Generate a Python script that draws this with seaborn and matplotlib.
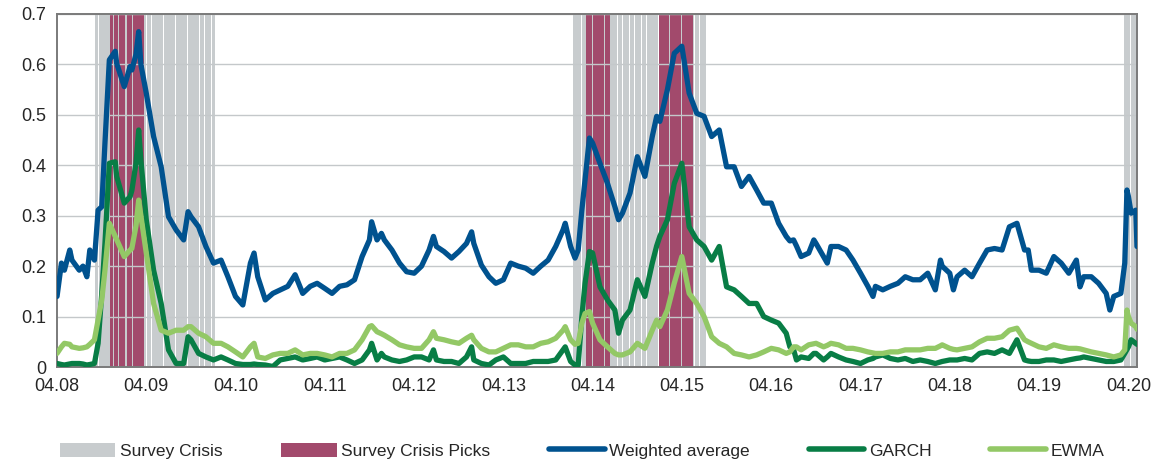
import matplotlib

matplotlib.use("Agg")
import matplotlib.dates as mdates
import matplotlib.pyplot as plt
import pandas as pd
import seaborn as sns
from matplotlib.lines import Line2D
from matplotlib.patches import Patch

# ---------------------------
# DATA
# ---------------------------

dates = [
    # 2008
    "2008-04-01", "2008-04-19", "2008-05-01", "2008-05-23", "2008-06-01", "2008-07-01",
    "2008-07-16", "2008-08-01", "2008-08-13", "2008-09-01", "2008-09-16", "2008-10-01",
    "2008-10-14", "2008-11-01", "2008-11-25", "2008-12-01",
    # 2009
    "2009-01-01", "2009-01-25", "2009-02-01", "2009-02-18", "2009-03-01", "2009-03-10",
    "2009-04-01", "2009-05-01", "2009-06-01", "2009-07-01", "2009-08-01", "2009-09-01",
    "2009-09-19", "2009-10-01", "2009-11-01", "2009-12-01",
    # 2010
    "2010-01-01", "2010-02-01", "2010-03-01", "2010-04-01", "2010-05-01", "2010-06-01",
    "2010-06-16", "2010-07-01", "2010-08-01", "2010-09-01", "2010-10-01", "2010-11-01",
    "2010-12-01",
    # 2011
    "2011-01-01", "2011-02-01", "2011-03-01", "2011-04-01", "2011-05-01", "2011-06-01",
    "2011-07-01", "2011-08-01", "2011-09-01", "2011-10-01", "2011-10-10", "2011-11-01",
    "2011-11-19", "2011-12-01",
    # 2012
    "2012-01-01", "2012-02-01", "2012-03-01", "2012-04-01", "2012-05-01", "2012-06-01",
    "2012-06-19", "2012-07-01", "2012-08-01", "2012-09-01", "2012-10-01", "2012-11-01",
    "2012-11-22", "2012-12-01",
    # 2013
    "2013-01-01", "2013-02-01", "2013-03-01", "2013-04-01", "2013-05-01", "2013-06-01",
    "2013-07-01", "2013-08-01", "2013-09-01", "2013-10-01", "2013-11-01", "2013-12-01",
    "2013-12-10",
    # 2014
    "2014-01-01", "2014-01-19", "2014-02-01", "2014-02-16", "2014-03-01", "2014-03-19",
    "2014-04-01", "2014-05-01", "2014-06-01", "2014-07-01", "2014-07-16", "2014-08-01",
    "2014-09-01", "2014-10-01", "2014-11-01", "2014-12-01", "2014-12-19",
    # 2015
    "2015-01-01", "2015-02-01", "2015-03-01", "2015-04-01", "2015-05-01", "2015-06-01",
    "2015-07-01", "2015-08-01", "2015-09-01", "2015-10-01", "2015-11-01", "2015-12-01",
    # 2016
    "2016-01-01", "2016-02-01", "2016-03-01", "2016-04-01", "2016-05-01", "2016-06-01",
    "2016-06-16", "2016-07-01", "2016-07-13", "2016-08-01", "2016-09-01", "2016-09-22",
    "2016-10-01", "2016-11-01", "2016-11-16", "2016-12-01",
    # 2017
    "2017-01-01", "2017-02-01", "2017-03-01", "2017-04-01", "2017-05-01", "2017-05-22",
    "2017-06-01", "2017-07-01", "2017-08-01", "2017-09-01", "2017-10-01", "2017-11-01",
    "2017-12-01",
    # 2018
    "2018-01-01", "2018-02-01", "2018-02-22", "2018-03-01", "2018-04-01", "2018-04-16",
    "2018-05-01", "2018-06-01", "2018-07-01", "2018-08-01", "2018-09-01", "2018-10-01",
    "2018-11-01", "2018-12-01",
    # 2019
    "2019-01-01", "2019-02-01", "2019-02-16", "2019-03-01", "2019-04-01", "2019-05-01",
    "2019-06-01", "2019-07-01", "2019-08-01", "2019-09-01", "2019-09-16", "2019-10-01",
    "2019-11-01", "2019-12-01",
    # 2020
    "2020-01-01", "2020-01-16", "2020-02-01", "2020-03-01", "2020-03-17", "2020-03-26",
    "2020-04-01", "2020-04-12", "2020-05-01", "2020-05-06",
]

weighted_avg = [
    0.14, 0.206, 0.192, 0.232, 0.212, 0.192, 0.20, 0.179, 0.232, 0.212, 0.311, 0.318,
    0.444, 0.609, 0.626, 0.602,
    0.556, 0.596, 0.589, 0.62, 0.665, 0.60, 0.543, 0.457, 0.397, 0.298, 0.272, 0.252,
    0.308, 0.298, 0.278, 0.239,
    0.206, 0.212, 0.179, 0.14, 0.123, 0.206, 0.226, 0.179, 0.133, 0.146, 0.153, 0.16,
    0.183,
    0.146, 0.16, 0.166, 0.156, 0.146, 0.16, 0.163, 0.173, 0.219, 0.252, 0.288, 0.252,
    0.265, 0.252,
    0.232, 0.206, 0.189, 0.186, 0.20, 0.232, 0.259, 0.239, 0.229, 0.216, 0.229, 0.245,
    0.268, 0.245,
    0.202, 0.179, 0.166, 0.173, 0.206, 0.20, 0.196, 0.186, 0.20, 0.212, 0.239, 0.272,
    0.285,
    0.239, 0.216, 0.232, 0.311, 0.371, 0.454, 0.444, 0.404, 0.364, 0.318, 0.292, 0.305,
    0.345, 0.417, 0.378, 0.457, 0.497,
    0.487, 0.55, 0.622, 0.636, 0.543, 0.503, 0.497, 0.457, 0.47, 0.397, 0.397, 0.358,
    0.378, 0.351, 0.325, 0.325, 0.285, 0.259, 0.25, 0.252, 0.24, 0.219, 0.226, 0.252,
    0.245, 0.219, 0.206, 0.239,
    0.239, 0.232, 0.212, 0.186, 0.16, 0.14, 0.16, 0.153, 0.16, 0.166, 0.179, 0.173,
    0.173,
    0.186, 0.153, 0.212, 0.20, 0.186, 0.153, 0.179, 0.192, 0.179, 0.206, 0.232, 0.235,
    0.232, 0.278,
    0.285, 0.232, 0.232, 0.192, 0.192, 0.186, 0.219, 0.206, 0.186, 0.212, 0.159, 0.179,
    0.179, 0.166,
    0.146, 0.113, 0.14, 0.146, 0.206, 0.351, 0.338, 0.305, 0.311, 0.239,
]

garch = [
    0.007, 0.005, 0.004, 0.006, 0.007, 0.007, 0.006, 0.004, 0.005, 0.007, 0.047, 0.146,
    0.245, 0.404, 0.407, 0.378,
    0.325, 0.338, 0.35, 0.404, 0.47, 0.411, 0.292, 0.192, 0.126, 0.034, 0.007, 0.007,
    0.06, 0.054, 0.027, 0.02,
    0.014, 0.02, 0.014, 0.007, 0.005, 0.005, 0.006, 0.005, 0.004, 0.001, 0.014, 0.017,
    0.02,
    0.014, 0.017, 0.02, 0.014, 0.017, 0.02, 0.014, 0.007, 0.014, 0.034, 0.047, 0.014,
    0.027, 0.02,
    0.014, 0.011, 0.014, 0.02, 0.02, 0.014, 0.034, 0.014, 0.011, 0.011, 0.007, 0.02,
    0.04, 0.014,
    0.007, 0.004, 0.014, 0.02, 0.007, 0.007, 0.007, 0.011, 0.011, 0.011, 0.014, 0.034,
    0.04,
    0.011, 0.004, 0.004, 0.10, 0.166, 0.229, 0.226, 0.159, 0.133, 0.113, 0.067, 0.093,
    0.113, 0.173, 0.14, 0.206, 0.24,
    0.259, 0.292, 0.364, 0.404, 0.278, 0.252, 0.239, 0.212, 0.239, 0.159, 0.153, 0.14,
    0.126, 0.126, 0.10, 0.093, 0.087, 0.067, 0.04, 0.035, 0.014, 0.02, 0.017, 0.027,
    0.027, 0.014, 0.02, 0.027,
    0.02, 0.014, 0.011, 0.007, 0.014, 0.017, 0.02, 0.024, 0.017, 0.014, 0.017, 0.011,
    0.014,
    0.011, 0.007, 0.01, 0.011, 0.014, 0.014, 0.014, 0.017, 0.014, 0.027, 0.03, 0.027,
    0.034, 0.027,
    0.054, 0.014, 0.012, 0.011, 0.011, 0.014, 0.014, 0.011, 0.014, 0.017, 0.018, 0.02,
    0.017, 0.014,
    0.011, 0.011, 0.011, 0.014, 0.027, 0.035, 0.04, 0.054, 0.047, 0.045,
]

ewma = [
    0.027, 0.04, 0.047, 0.045, 0.04, 0.037, 0.038, 0.04, 0.045, 0.054, 0.093, 0.133,
    0.192, 0.285, 0.259, 0.252,
    0.219, 0.232, 0.235, 0.28, 0.331, 0.30, 0.226, 0.126, 0.073, 0.067, 0.073, 0.073,
    0.08, 0.08, 0.067, 0.06,
    0.047, 0.047, 0.04, 0.03, 0.02, 0.04, 0.047, 0.02, 0.017, 0.024, 0.027, 0.027,
    0.034,
    0.024, 0.027, 0.027, 0.024, 0.02, 0.027, 0.027, 0.034, 0.054, 0.08, 0.082, 0.07,
    0.066, 0.063,
    0.054, 0.044, 0.04, 0.037, 0.037, 0.054, 0.07, 0.057, 0.054, 0.05, 0.047, 0.057,
    0.063, 0.054,
    0.037, 0.03, 0.03, 0.037, 0.044, 0.044, 0.04, 0.04, 0.047, 0.05, 0.057, 0.073,
    0.08,
    0.054, 0.045, 0.047, 0.087, 0.106, 0.11, 0.087, 0.054, 0.04, 0.027, 0.024, 0.024,
    0.03, 0.047, 0.037, 0.073, 0.093,
    0.08, 0.113, 0.166, 0.219, 0.146, 0.126, 0.10, 0.06, 0.047, 0.04, 0.027, 0.024,
    0.02, 0.024, 0.03, 0.037, 0.034, 0.027, 0.03, 0.04, 0.04, 0.034, 0.044, 0.046,
    0.047, 0.04, 0.043, 0.047,
    0.044, 0.037, 0.037, 0.034, 0.03, 0.028, 0.027, 0.027, 0.03, 0.03, 0.034, 0.034,
    0.034,
    0.037, 0.037, 0.042, 0.044, 0.037, 0.035, 0.034, 0.037, 0.04, 0.05, 0.057, 0.057,
    0.06, 0.073,
    0.077, 0.054, 0.05, 0.047, 0.04, 0.037, 0.044, 0.04, 0.037, 0.037, 0.036, 0.034,
    0.03, 0.027,
    0.024, 0.022, 0.02, 0.024, 0.034, 0.113, 0.10, 0.087, 0.08, 0.075,
]

# survey crisis periods and the "picks" inside them
crisis_start = ["2008-09-04", "2014-01-11", "2020-03-13"]
crisis_end = ["2010-01-04", "2015-07-07", "2020-05-06"]
picks_start = ["2008-11-04", "2009-01-14", "2014-03-04", "2014-12-30"]
picks_end = ["2009-01-05", "2009-03-19", "2014-06-04", "2015-05-16"]

year_ticks = [f"{y}-04-01" for y in range(2008, 2021)]

# ---------------------------
# STYLE
# ---------------------------
GRAY = "#c8ccce"
MAROON = "#a24a6c"
BLUE = "#00528f"
DKGREEN = "#087d45"
LTGREEN = "#93c866"

sns.set_style("white")
plt.rcParams["font.family"] = ["Liberation Sans", "DejaVu Sans"]

df = pd.DataFrame(
    {
        "date": pd.to_datetime(dates),
        "Weighted average": weighted_avg,
        "GARCH": garch,
        "EWMA": ewma,
    }
)

fig = plt.figure(figsize=(11.57, 4.63), dpi=100)
ax = fig.add_axes([0.0493, 0.2073, 0.9334, 0.7625])

ymax = 0.7


def weekly_bars(starts, ends, color, z):
    for s, e in zip(starts, ends):
        weeks = pd.date_range(s, e, freq="7D")
        ax.bar(weeks, [ymax] * len(weeks), width=6.2, align="edge",
               color=color, linewidth=0, zorder=z)


weekly_bars(crisis_start, crisis_end, GRAY, 0.2)
weekly_bars(picks_start, picks_end, MAROON, 0.3)

for col, colour in [("Weighted average", BLUE), ("GARCH", DKGREEN), ("EWMA", LTGREEN)]:
    sns.lineplot(data=df, x="date", y=col, color=colour, linewidth=3.8,
                 ax=ax, zorder=3, solid_joinstyle="round")

ax.set_ylim(0, ymax)
ax.set_xlim(pd.Timestamp("2008-04-01"), pd.Timestamp("2020-05-06"))
ax.set_yticks([0, 0.1, 0.2, 0.3, 0.4, 0.5, 0.6, 0.7])
ax.set_yticklabels(["0", "0.1", "0.2", "0.3", "0.4", "0.5", "0.6", "0.7"])
ax.set_xticks(pd.to_datetime(year_ticks))
ax.xaxis.set_major_formatter(mdates.DateFormatter("%m.%y"))
ax.set_xlabel("")
ax.set_ylabel("")

ax.set_axisbelow(True)
ax.yaxis.grid(True, color="#c4c8ca", linewidth=1.0, zorder=0.5)
ax.xaxis.grid(False)
for side in ["left", "right", "top", "bottom"]:
    ax.spines[side].set_visible(True)
    ax.spines[side].set_color("#7a7a7a")
    ax.spines[side].set_linewidth(1.4)
ax.tick_params(axis="x", direction="in", length=4, color="#7a7a7a",
               labelsize=13, pad=8)
ax.tick_params(axis="y", direction="in", length=0, labelsize=13, pad=8)

handles = [
    Patch(facecolor=GRAY, edgecolor="none"),
    Patch(facecolor=MAROON, edgecolor="none"),
    Line2D([0], [0], color=BLUE, linewidth=4, solid_capstyle="round"),
    Line2D([0], [0], color=DKGREEN, linewidth=4, solid_capstyle="round"),
    Line2D([0], [0], color=LTGREEN, linewidth=4, solid_capstyle="round"),
]
labels = ["Survey Crisis", "Survey Crisis Picks", "Weighted average", "GARCH", "EWMA"]
fig.legend(handles, labels, loc="center", bbox_to_anchor=(0.503, 0.026), ncol=5,
           frameon=False, fontsize=12.5, handlelength=3.2, handleheight=0.9,
           handletextpad=0.25, columnspacing=3.4)

fig.savefig("out.png", dpi=100)
